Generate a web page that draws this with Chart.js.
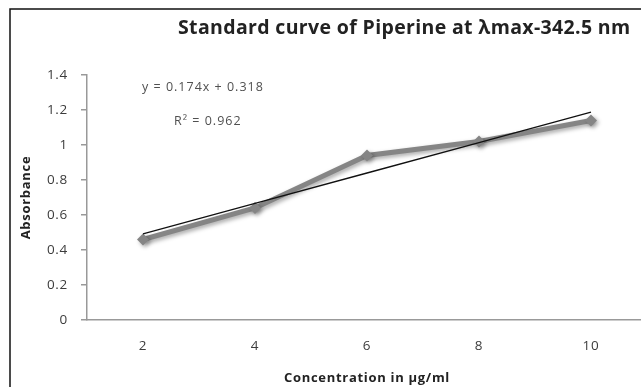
<!DOCTYPE html>
<html>
<head>
<meta charset="utf-8">
<script src="https://cdn.jsdelivr.net/npm/chart.js@4/dist/chart.umd.min.js"></script>
<style>
  html, body { margin: 0; padding: 0; background: #fff; overflow: hidden; }
  #wrap { width: 641px; height: 387px; overflow: hidden; }
</style>
</head>
<body>
<div id="wrap"><canvas id="chart" width="660" height="387"></canvas></div>
<script>
const CONCENTRATIONS = ['2', '4', '6', '8', '10'];
const ABSORBANCE = [0.46, 0.64, 0.94, 1.02, 1.14];
const TREND = [0.492, 0.666, 0.84, 1.014, 1.188];
const TITLE = 'Standard curve of Piperine at λmax-342.5 nm';
const EQUATION = 'y = 0.174x + 0.318';
const R_SQUARED = 'R² = 0.962';

const FONT = '"Open Sans", sans-serif';
const TEXT = '#3c3c3c';

// frame, title and trendline labels, like the Excel chart box
const decorations = {
    id: 'decorations',
    beforeDraw(chart) {
        const ctx = chart.ctx;
        ctx.save();
        ctx.fillStyle = '#fff';
        ctx.fillRect(0, 0, chart.width, chart.height);
        ctx.restore();
        // the Excel text is set a little loose
        ctx.letterSpacing = '0.7px';
    },
    afterDraw(chart) {
        const ctx = chart.ctx;
        ctx.save();
        ctx.strokeStyle = '#111';
        ctx.lineWidth = 1.5;
        ctx.strokeRect(10, 9, 800, 500);

        ctx.fillStyle = '#222';
        ctx.font = 'bold 19.5px ' + FONT;
        ctx.letterSpacing = '0.35px';
        ctx.textAlign = 'left';
        ctx.textBaseline = 'alphabetic';
        ctx.fillText(TITLE, 178, 34);

        ctx.fillStyle = '#505050';
        ctx.font = '12.5px ' + FONT;
        ctx.letterSpacing = '1px';
        ctx.textBaseline = 'middle';
        ctx.fillText(EQUATION, 142, 87);
        ctx.fillText(R_SQUARED, 174, 121);
        ctx.restore();
    }
};

const shadow = {
    id: 'shadow',
    beforeDatasetDraw(chart, args) {
        if (args.index !== 0) return;
        const ctx = chart.ctx;
        ctx.save();
        ctx.shadowColor = 'rgba(0,0,0,0.35)';
        ctx.shadowBlur = 4;
        ctx.shadowOffsetX = 2;
        ctx.shadowOffsetY = 2;
    },
    afterDatasetDraw(chart, args) {
        if (args.index !== 0) return;
        chart.ctx.restore();
    }
};

new Chart(document.getElementById('chart'), {
    type: 'line',
    data: {
        labels: CONCENTRATIONS,
        datasets: [
            {
                label: 'Absorbance',
                data: ABSORBANCE,
                borderColor: '#858585',
                backgroundColor: '#858585',
                borderWidth: 5,
                pointStyle: 'rectRot',
                pointRadius: 6,
                pointBorderWidth: 0,
                order: 1,
            },
            {
                label: 'Linear trend',
                data: TREND,
                borderColor: '#111',
                borderWidth: 1.3,
                pointRadius: 0,
                order: 0,
            },
        ]
    },
    options: {
        responsive: false,
        animation: false,
        events: [],
        layout: { padding: { left: 0, top: 75, right: 13, bottom: 0 } },
        plugins: {
            legend: { display: false },
            tooltip: { enabled: false },
        },
        scales: {
            x: {
                offset: true,
                grid: { display: false, drawTicks: false, tickLength: 0 },
                border: { display: true, color: '#999', width: 1.5 },
                ticks: { color: TEXT, font: { family: FONT, size: 13.5 }, padding: 18, maxRotation: 0 },
                title: {
                    display: true,
                    text: 'Concentration in µg/ml',
                    color: '#222',
                    font: { family: FONT, size: 13, weight: 'bold' },
                    padding: { top: 0, bottom: 1 },
                },
                afterFit(axis) { axis.height = 67; },
            },
            y: {
                min: 0,
                max: 1.4,
                ticks: {
                    stepSize: 0.2,
                    color: TEXT,
                    font: { family: FONT, size: 13.5 },
                    padding: 13,
                    callback: v => String(Number(v.toFixed(1))),
                },
                grid: { drawOnChartArea: false, drawTicks: true, tickLength: 6, color: '#999', lineWidth: 1.5 },
                border: { display: true, color: '#999', width: 1.5 },
                title: {
                    display: true,
                    text: 'Absorbance',
                    color: '#222',
                    font: { family: FONT, size: 13, weight: 'bold' },
                    padding: { top: 18, bottom: 0 },
                },
                afterFit(axis) { axis.width = 87; },
            },
        },
    },
    plugins: [decorations, shadow],
});
</script>
</body>
</html>
